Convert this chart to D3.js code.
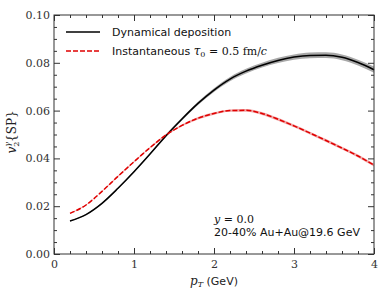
<!DOCTYPE html>
<html>
<head>
<meta charset="utf-8">
<script src="https://cdn.jsdelivr.net/npm/d3@7"></script>
<style>
  body { margin: 0; background: #fff; }
  .axis text { font-family: "DejaVu Serif", serif; font-size: 11px; fill: #333; }
  .axis line { stroke: #333; }
  .axis path { display: none; }
  .serif { font-family: "DejaVu Serif", serif; }
  .sans { font-family: "DejaVu Sans", sans-serif; }
</style>
</head>
<body>
<div id="chart"></div>
<script>
// data
var pt = [0.2, 0.4, 0.6, 0.8, 1.0, 1.2, 1.4, 1.6, 1.8, 2.0, 2.2, 2.4, 2.6, 2.8, 3.0, 3.2, 3.4, 3.6, 3.8, 4.0];
var dynMean = [0.0138, 0.0165, 0.0212, 0.0275, 0.0344, 0.0418, 0.0495, 0.0565, 0.0630, 0.0686, 0.0732, 0.0765, 0.0790, 0.0810, 0.0824, 0.0831, 0.0832, 0.0823, 0.0801, 0.0771];
var dynErr = [0.0002, 0.0002, 0.0003, 0.0003, 0.0004, 0.0004, 0.0005, 0.0006, 0.0007, 0.0008, 0.0009, 0.0010, 0.0010, 0.0011, 0.0011, 0.0012, 0.0012, 0.0012, 0.0012, 0.0013];
var instMean = [0.0170, 0.0205, 0.0262, 0.0325, 0.0386, 0.0445, 0.0498, 0.0538, 0.0568, 0.0588, 0.0600, 0.0601, 0.0588, 0.0564, 0.0536, 0.0506, 0.0475, 0.0443, 0.0410, 0.0372];
var instErr = [0.0002, 0.0002, 0.0002, 0.0003, 0.0003, 0.0003, 0.0004, 0.0004, 0.0005, 0.0005, 0.0005, 0.0006, 0.0006, 0.0006, 0.0006, 0.0006, 0.0006, 0.0006, 0.0006, 0.0006];
var xTicks = [0, 1, 2, 3, 4];
var yTicks = [0, 0.02, 0.04, 0.06, 0.08, 0.10];

var W = 390, H = 293;
var margin = {left: 54, top: 15, right: 16, bottom: 39};
var width = W - margin.left - margin.right;
var height = H - margin.top - margin.bottom;

var svg = d3.select('#chart').append('svg').attr('width', W).attr('height', H);
var g = svg.append('g').attr('transform', 'translate(' + margin.left + ',' + margin.top + ')');

var x = d3.scaleLinear().domain([0, 4]).range([0, width]);
var y = d3.scaleLinear().domain([0, 0.1]).range([height, 0]);

var xMinor = d3.range(0, 4.001, 0.2).filter(function(v) { return Math.abs(v - Math.round(v)) > 1e-6; });
var yMinor = d3.range(0, 0.1001, 0.005).filter(function(v) { return Math.abs(v * 50 - Math.round(v * 50)) > 1e-6; });

var rows = pt.map(function(p, i) {
  return {pt: p, dm: dynMean[i], de: dynErr[i], im: instMean[i], ie: instErr[i]};
});

var area = function(m, e) {
  return d3.area().curve(d3.curveMonotoneX)
    .x(function(d) { return x(d.pt); })
    .y0(function(d) { return y(d[m] - d[e]); })
    .y1(function(d) { return y(d[m] + d[e]); });
};
var line = function(m) {
  return d3.line().curve(d3.curveMonotoneX)
    .x(function(d) { return x(d.pt); })
    .y(function(d) { return y(d[m]); });
};

// bands then curves
g.append('path').datum(rows).attr('d', area('dm', 'de')).attr('fill', '#a8a8a8');
g.append('path').datum(rows).attr('d', area('im', 'ie')).attr('fill', '#f2a8a8');
g.append('path').datum(rows).attr('d', line('dm')).attr('fill', 'none').attr('stroke', '#000').attr('stroke-width', 1.5);
g.append('path').datum(rows).attr('d', line('im')).attr('fill', 'none').attr('stroke', '#e00000').attr('stroke-width', 1.5).attr('stroke-dasharray', '5,2');

// axes, ticks inside on all sides
g.append('g').attr('class', 'axis').attr('transform', 'translate(0,' + height + ')')
  .call(d3.axisBottom(x).tickValues(xTicks).tickFormat(d3.format('d')).tickSize(-6).tickPadding(6));
g.append('g').attr('class', 'axis').attr('transform', 'translate(0,' + height + ')')
  .call(d3.axisBottom(x).tickValues(xMinor).tickFormat('').tickSize(-3));
g.append('g').attr('class', 'axis')
  .call(d3.axisTop(x).tickValues(xTicks).tickFormat('').tickSize(-6));
g.append('g').attr('class', 'axis')
  .call(d3.axisTop(x).tickValues(xMinor).tickFormat('').tickSize(-3));

g.append('g').attr('class', 'axis')
  .call(d3.axisLeft(y).tickValues(yTicks).tickFormat(d3.format('.2f')).tickSize(-6).tickPadding(4));
g.append('g').attr('class', 'axis')
  .call(d3.axisLeft(y).tickValues(yMinor).tickFormat('').tickSize(-3));
g.append('g').attr('class', 'axis').attr('transform', 'translate(' + width + ',0)')
  .call(d3.axisRight(y).tickValues(yTicks).tickFormat('').tickSize(-6));
g.append('g').attr('class', 'axis').attr('transform', 'translate(' + width + ',0)')
  .call(d3.axisRight(y).tickValues(yMinor).tickFormat('').tickSize(-3));

g.append('rect').attr('width', width).attr('height', height)
  .attr('fill', 'none').attr('stroke', '#333').attr('stroke-width', 1);

// axis labels
var xl = svg.append('text').attr('x', margin.left + width / 2).attr('y', 285)
  .attr('text-anchor', 'middle').attr('fill', '#222');
xl.append('tspan').attr('class', 'serif').attr('font-style', 'italic').attr('font-size', 12).text('p');
xl.append('tspan').attr('class', 'serif').attr('font-style', 'italic').attr('font-size', 8).attr('dy', 2).text('T');
xl.append('tspan').attr('class', 'sans').attr('font-size', 11).attr('dy', -2).text(' (GeV)');

var yl = svg.append('text').attr('transform', 'translate(16,132) rotate(-90)')
  .attr('text-anchor', 'middle').attr('fill', '#222').attr('class', 'serif');
yl.append('tspan').attr('font-style', 'italic').attr('font-size', 12).text('v');
yl.append('tspan').attr('font-size', 8).attr('dy', 3).text('2');
yl.append('tspan').attr('font-style', 'italic').attr('font-size', 8).attr('dx', -5).attr('dy', -9).text('γ');
yl.append('tspan').attr('font-size', 12).attr('dy', 6).text('{SP}');

// legend
var legend = g.append('g');
legend.append('line').attr('x1', 12).attr('x2', 46).attr('y1', 17).attr('y2', 17)
  .attr('stroke', '#000').attr('stroke-width', 1.5);
legend.append('line').attr('x1', 12).attr('x2', 46).attr('y1', 36).attr('y2', 36)
  .attr('stroke', '#e00000').attr('stroke-width', 1.5).attr('stroke-dasharray', '5,2');
legend.append('text').attr('x', 58).attr('y', 21).attr('class', 'sans')
  .attr('font-size', 11).attr('fill', '#111')
  .text('Dynamical deposition');
var lt = legend.append('text').attr('x', 58).attr('y', 40).attr('fill', '#111');
lt.append('tspan').attr('class', 'sans').attr('font-size', 11).text('Instantaneous ');
lt.append('tspan').attr('class', 'serif').attr('font-style', 'italic').attr('font-size', 12).text('τ');
lt.append('tspan').attr('class', 'serif').attr('font-size', 8).attr('dy', 2).text('0');
lt.append('tspan').attr('class', 'serif').attr('font-size', 11).attr('dy', -2).text(' = 0.5 fm/');
lt.append('tspan').attr('class', 'serif').attr('font-style', 'italic').attr('font-size', 11).text('c');

// annotation
var an = g.append('g').attr('fill', '#111');
var a1 = an.append('text').attr('x', 160).attr('y', 208).attr('class', 'serif').attr('font-size', 11);
a1.append('tspan').attr('font-style', 'italic').text('y');
a1.append('tspan').text(' = 0.0');
an.append('text').attr('x', 160).attr('y', 221).attr('class', 'sans').attr('font-size', 11)
  .text('20-40% Au+Au@19.6 GeV');
</script>
</body>
</html>
